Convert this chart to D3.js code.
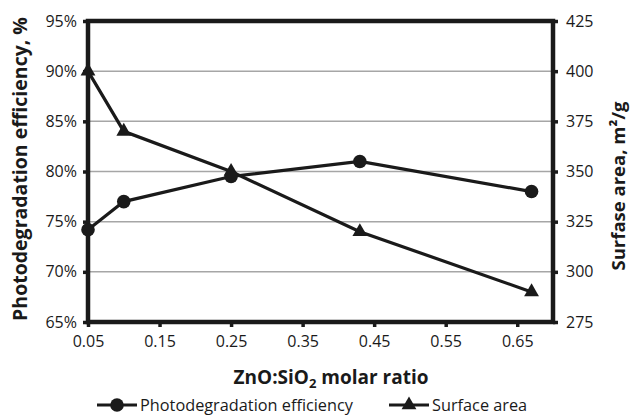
<!DOCTYPE html>
<html>
<head>
<meta charset="utf-8">
<script src="https://cdn.jsdelivr.net/npm/d3@7"></script>
<style>
  body { margin: 0; background: #fff; }
  svg text { font-family: "Open Sans", sans-serif; fill: #1a1a1a; }
</style>
</head>
<body>
<div id="chart"></div>
<script>
// data
var ratio = [0.05, 0.1, 0.25, 0.43, 0.67];
var efficiency = [74.2, 77, 79.5, 81, 78];
var surfaceArea = [400, 370, 350, 320, 290];
var xTicks = [0.05, 0.15, 0.25, 0.35, 0.45, 0.55, 0.65];
var leftTicks = [65, 70, 75, 80, 85, 90, 95];
var rightTicks = [275, 300, 325, 350, 375, 400, 425];

var width = 631, height = 415;
var plotLeft = 88, plotRight = 553, plotTop = 21, plotBottom = 322;

var svg = d3.select("#chart")
			.append("svg")
			.attr("width", width)
			.attr("height", height);

var x = d3.scaleLinear().domain([0.05, 0.70]).range([plotLeft, plotRight]);
var yL = d3.scaleLinear().domain([65, 95]).range([plotBottom, plotTop]);
var yR = d3.scaleLinear().domain([275, 425]).range([plotBottom, plotTop]);

// gridlines
svg.selectAll("line.grid")
	.data(leftTicks.slice(1, -1))
	.enter()
	.append("line")
	.attr("class", "grid")
	.attr("x1", plotLeft)
	.attr("x2", plotRight)
	.attr("y1", function(d){ return yL(d); })
	.attr("y2", function(d){ return yL(d); })
	.attr("stroke", "#a6a6a6")
	.attr("stroke-width", 1.5);

// axes
var gx = svg.append("g")
			.attr("transform", "translate(0," + plotBottom + ")")
			.call(d3.axisBottom(x).tickValues(xTicks).tickSize(5).tickPadding(9)
				.tickFormat(d3.format(".2f")));
var gl = svg.append("g")
			.attr("transform", "translate(" + plotLeft + ",0)")
			.call(d3.axisLeft(yL).tickValues(leftTicks).tickSize(5).tickPadding(6)
				.tickFormat(function(d){ return d + "%"; }));
var gr = svg.append("g")
			.attr("transform", "translate(" + plotRight + ",0)")
			.call(d3.axisRight(yR).tickValues(rightTicks).tickSize(5).tickPadding(8));

[gx, gl, gr].forEach(function(g){
	g.select(".domain").remove();
	g.selectAll(".tick line").attr("stroke", "#1a1a1a").attr("stroke-width", 3.5);
	g.selectAll(".tick text").attr("font-size", 16).attr("fill", "#1a1a1a");
});

// frame
svg.append("rect")
	.attr("x", plotLeft)
	.attr("y", plotTop)
	.attr("width", plotRight - plotLeft)
	.attr("height", plotBottom - plotTop)
	.attr("fill", "none")
	.attr("stroke", "#1a1a1a")
	.attr("stroke-width", 4.5);

// series
var effData = ratio.map(function(r, i){ return [r, efficiency[i]]; });
var saData = ratio.map(function(r, i){ return [r, surfaceArea[i]]; });

var lineL = d3.line().x(function(d){ return x(d[0]); }).y(function(d){ return yL(d[1]); });
var lineR = d3.line().x(function(d){ return x(d[0]); }).y(function(d){ return yR(d[1]); });

svg.append("path")
	.attr("d", lineR(saData))
	.attr("fill", "none")
	.attr("stroke", "#1a1a1a")
	.attr("stroke-width", 3.2);

svg.append("path")
	.attr("d", lineL(effData))
	.attr("fill", "none")
	.attr("stroke", "#1a1a1a")
	.attr("stroke-width", 3.2);

var tri = d3.symbol().type(d3.symbolTriangle).size(95);

svg.selectAll("path.tri")
	.data(saData)
	.enter()
	.append("path")
	.attr("class", "tri")
	.attr("d", tri)
	.attr("transform", function(d){ return "translate(" + x(d[0]) + "," + yR(d[1]) + ")"; })
	.attr("fill", "#1a1a1a");

svg.selectAll("circle.dot")
	.data(effData)
	.enter()
	.append("circle")
	.attr("class", "dot")
	.attr("cx", function(d){ return x(d[0]); })
	.attr("cy", function(d){ return yL(d[1]); })
	.attr("r", 6.8)
	.attr("fill", "#1a1a1a");

// axis titles
var xt = svg.append("text")
			.attr("x", 331)
			.attr("y", 384)
			.attr("text-anchor", "middle")
			.attr("font-size", 19)
			.attr("font-weight", "bold");
xt.append("tspan").text("ZnO:SiO");
xt.append("tspan").attr("font-size", 13).attr("dy", 4).text("2");
xt.append("tspan").attr("dy", -4).text(" molar ratio");

svg.append("text")
	.attr("transform", "translate(27,169) rotate(-90)")
	.attr("text-anchor", "middle")
	.attr("font-size", 19.5)
	.attr("font-weight", "bold")
	.text("Photodegradation efficiency, %");

svg.append("text")
	.attr("transform", "translate(625,186) rotate(-90)")
	.attr("text-anchor", "middle")
	.attr("font-size", 18.5)
	.attr("font-weight", "bold")
	.text("Surfase area, m²/g");

// legend
var legend = [
	{label: "Photodegradation efficiency", x: 97, marker: "circle"},
	{label: "Surface area", x: 389, marker: "triangle"}
];
var ly = 405;
legend.forEach(function(l){
	svg.append("line")
		.attr("x1", l.x)
		.attr("x2", l.x + 40)
		.attr("y1", ly)
		.attr("y2", ly)
		.attr("stroke", "#1a1a1a")
		.attr("stroke-width", 3.2);
	if(l.marker == "circle"){
		svg.append("circle")
			.attr("cx", l.x + 20)
			.attr("cy", ly)
			.attr("r", 6.8)
			.attr("fill", "#1a1a1a");
	}
	else{
		svg.append("path")
			.attr("d", tri)
			.attr("transform", "translate(" + (l.x + 20) + "," + ly + ")")
			.attr("fill", "#1a1a1a");
	}
	svg.append("text")
		.attr("x", l.x + 43)
		.attr("y", ly + 5.5)
		.attr("font-size", 16.3)
		.text(l.label);
});
</script>
</body>
</html>
